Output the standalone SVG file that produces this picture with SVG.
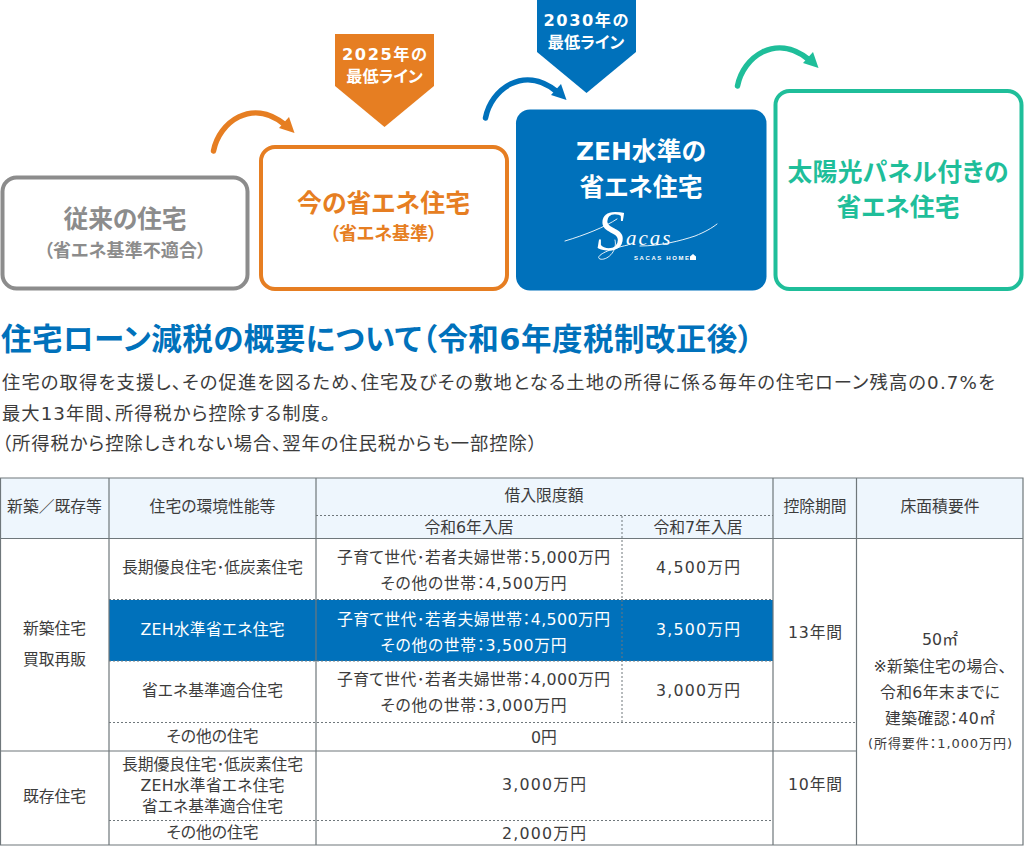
<svg xmlns="http://www.w3.org/2000/svg" width="1024" height="846" viewBox="0 0 1024 846">
<style>
text{font-family:"DejaVu Sans","Noto Sans CJK JP",sans-serif;text-anchor:middle;fill:#3c3c3c;font-size:15.8px;font-feature-settings:"palt"}
.b{font-weight:700}
.big{font-size:24.8px;font-weight:700}
.sub{font-size:18px;font-weight:700}
.pen{font-size:16.2px;font-weight:700;fill:#fff}
.w{fill:#fff}
.l{text-anchor:start}
.body{font-size:18.3px;text-anchor:start}
.solid{stroke:#6f777b;stroke-width:1.2;fill:none}
.dash{stroke:#6f777b;stroke-width:1;stroke-dasharray:2 2;fill:none}
.arc{fill:none;stroke-width:5.5;stroke-linecap:round}
.sig{fill:none;stroke:#fff;stroke-width:.9;stroke-linecap:round}
.script{font-family:"Liberation Serif",serif;font-style:italic;fill:#fff;text-anchor:start;font-feature-settings:normal}
</style>
<g id="node-conventional">
<rect x="2.500" y="177.500" width="245" height="111" rx="14" fill="#fff" stroke="#8c8c8c" stroke-width="4"/>
<text x="125" y="228" class="big" style="fill:#8c8c8c" textLength="123">従来の住宅</text>
<text x="125" y="257" class="sub" style="fill:#8c8c8c" textLength="162">（省エネ基準不適合）</text>
</g>
<g id="node-current">
<rect x="261" y="147" width="246" height="142" rx="14" fill="#fff" stroke="#e67e22" stroke-width="4"/>
<text x="383.500" y="212" class="big" style="fill:#e67e22" textLength="173">今の省エネ住宅</text>
<text x="383.500" y="240" class="sub" style="fill:#e67e22" textLength="107">（省エネ基準）</text>
</g>
<g id="node-zeh">
<rect x="516" y="109.500" width="250.500" height="181" rx="14" fill="#0071bb"/>
<text x="641" y="160" class="big w" textLength="130">ZEH水準の</text>
<text x="641" y="196" class="big w">省エネ住宅</text>
<path class="sig" d="M565 241C585 235 605 227 617 219M615 240C618 252 606 261 600 259C595 257 604 250 628 245M640 246C660 246 680 241 695 236C705 232 712 228 717 224"/>
<text x="597" y="250" class="script" style="font-size:56px">S</text>
<text x="626" y="245" class="script" style="font-size:21px;letter-spacing:2px">acas</text>
<text x="634" y="260" class="l b" style="font-family:'Liberation Sans',sans-serif;font-size:6px;fill:#fff" textLength="55">SACAS HOME</text>
<path d="M690 256.500l3-2.500 3 2.500v3.500h-6z" fill="#fff"/>
</g>
<g id="node-solar">
<rect x="775.500" y="91" width="246" height="198" rx="14" fill="#fff" stroke="#1fbe9a" stroke-width="4"/>
<text x="898" y="181" class="big" style="fill:#1fbe9a" textLength="221">太陽光パネル付きの</text>
<text x="898" y="216" class="big" style="fill:#1fbe9a">省エネ住宅</text>
</g>
<g id="badge-2025">
<path d="M335 34H434V86L384.500 127L335 86Z" fill="#e67e22"/>
<text x="384.500" y="60" class="pen" textLength="85">2025年の</text>
<text x="384.500" y="82" class="pen">最低ライン</text>
</g>
<g id="badge-2030">
<path d="M537 0H636V52L586.500 93L537 52Z" fill="#0071bb"/>
<text x="586" y="26" class="pen" textLength="85">2030年の</text>
<text x="586" y="48" class="pen">最低ライン</text>
</g>
<g id="connectors">
<path class="arc" stroke="#e67e22" d="M213.500 151C219 122 252 98 284 124"/>
<path fill="#e67e22" d="M294.500 133L289 117L279 128Z"/>
<path class="arc" stroke="#0071bb" d="M485.500 118C491 89 524 65 556 91"/>
<path fill="#0071bb" d="M566.500 100L561 84L551 95Z"/>
<path class="arc" stroke="#1fbe9a" d="M737.500 86C743 57 776 33 808 59"/>
<path fill="#1fbe9a" d="M818.500 68L813 52L803 63Z"/>
</g>
<g id="intro">
<text x="1" y="350" class="l b" style="font-size:30.5px;fill:#0071bb" textLength="752">住宅ローン減税の概要について（令和6年度税制改正後）</text>
<text x="2" y="389" class="body" textLength="993">住宅の取得を支援し、その促進を図るため、住宅及びその敷地となる土地の所得に係る毎年の住宅ローン残高の0.7%を</text>
<text x="2" y="420" class="body" textLength="328">最大13年間、所得税から控除する制度。</text>
<text x="2" y="450" class="body" textLength="535">（所得税から控除しきれない場合、翌年の住民税からも一部控除）</text>
</g>
<g id="table">
<rect x="0.500" y="478" width="1022.500" height="60.500" fill="#eef6fd"/>
<rect x="109" y="600" width="664" height="61" fill="#0071bb"/>
<path class="dash" d="M316 515.500H773M109 599.500H773M109 661H773M109 722.500H856.500M109 820.500H773M622 516V722"/>
<path class="solid" d="M0.500 478H1023V845H0.500ZM0.500 538.500H1023M0.500 751H856.500M109 478V845M316 478V845M773 478V845M856.500 478V845"/>
<text x="54.500" y="512">新築／既存等</text>
<text x="212.500" y="512">住宅の環境性能等</text>
<text x="544" y="501">借入限度額</text>
<text x="469" y="533">令和6年入居</text>
<text x="698" y="533">令和7年入居</text>
<text x="815" y="512">控除期間</text>
<text x="940" y="512">床面積要件</text>
<text x="54.500" y="634">新築住宅</text>
<text x="54.500" y="665">買取再販</text>
<text x="54.500" y="802">既存住宅</text>
<text x="212.500" y="573" textLength="181">長期優良住宅･低炭素住宅</text>
<text x="212.500" y="635" class="w" textLength="144">ZEH水準省エネ住宅</text>
<text x="212.500" y="696">省エネ基準適合住宅</text>
<text x="212.500" y="742">その他の住宅</text>
<text x="212.500" y="770" textLength="181">長期優良住宅･低炭素住宅</text>
<text x="212.500" y="791" textLength="144">ZEH水準省エネ住宅</text>
<text x="212.500" y="812">省エネ基準適合住宅</text>
<text x="212.500" y="838">その他の住宅</text>
<text x="473.500" y="563" textLength="273">子育て世代･若者夫婦世帯：5,000万円</text>
<text x="473.500" y="589" textLength="186">その他の世帯：4,500万円</text>
<text x="473.500" y="625" class="w" textLength="273">子育て世代･若者夫婦世帯：4,500万円</text>
<text x="473.500" y="651" class="w" textLength="186">その他の世帯：3,500万円</text>
<text x="473.500" y="685" textLength="273">子育て世代･若者夫婦世帯：4,000万円</text>
<text x="473.500" y="711" textLength="186">その他の世帯：3,000万円</text>
<text x="698" y="573" textLength="84">4,500万円</text>
<text x="698" y="635" class="w" textLength="84">3,500万円</text>
<text x="698" y="696" textLength="84">3,000万円</text>
<text x="544" y="743">0円</text>
<text x="544" y="790" textLength="84">3,000万円</text>
<text x="544" y="839" textLength="84">2,000万円</text>
<text x="815" y="638" textLength="54">13年間</text>
<text x="815" y="790" textLength="54">10年間</text>
<text x="940" y="645">50㎡</text>
<text x="940" y="672" textLength="133">※新築住宅の場合、</text>
<text x="940" y="698" textLength="120">令和6年末までに</text>
<text x="940" y="724" textLength="110">建築確認：40㎡</text>
<text x="940" y="748" style="font-size:13px" textLength="144">(所得要件：1,000万円)</text>
</g>
</svg>
